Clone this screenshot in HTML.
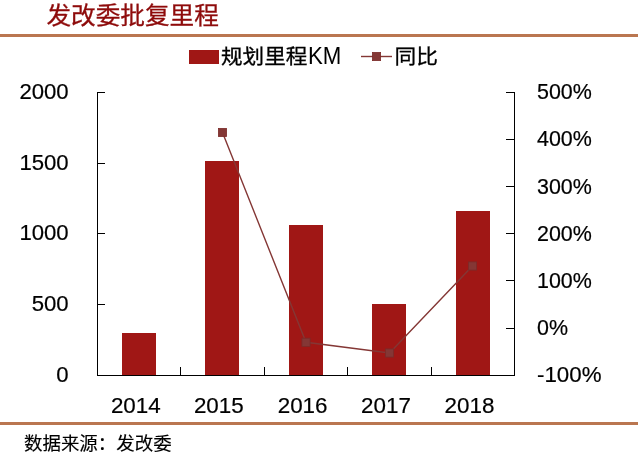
<!DOCTYPE html>
<html lang="zh">
<head>
<meta charset="utf-8">
<title>发改委批复里程</title>
<style>
html,body{margin:0;padding:0;background:#fff;}
body{width:638px;height:458px;overflow:hidden;position:relative;font-family:"Liberation Sans","Noto Sans CJK SC",sans-serif;}
svg{position:absolute;left:0;top:0;display:block;}
text{font-family:"Liberation Sans","Noto Sans CJK SC",sans-serif;}
.t{font-size:22.4px;fill:#000;stroke:#000;stroke-width:0.2px;}
.c{font-size:20.6px;fill:#000;stroke:#000;stroke-width:0.3px;}
</style>
</head>
<body>
<svg width="638" height="458" viewBox="0 0 638 458">
  <rect x="0" y="0" width="638" height="458" fill="#ffffff"/>
  <!-- title -->
  <text x="46.4" y="23.6" textLength="172.4" lengthAdjust="spacingAndGlyphs" style="font-size:23.3px;fill:#8e0b0b;stroke:#8e0b0b;stroke-width:0.3px;">发改委批复里程</text>
  <!-- rules -->
  <rect x="0" y="34" width="638" height="3" fill="#ba7650"/>
  <rect x="0" y="422" width="638" height="3" fill="#ba7650"/>
  <!-- legend -->
  <rect x="189" y="50" width="30" height="14" fill="#a01715"/>
  <text class="c" y="64.4"><tspan x="221" textLength="86.4" lengthAdjust="spacingAndGlyphs">规划里程</tspan><tspan x="308" y="63.9" textLength="33.4" lengthAdjust="spacingAndGlyphs" style="font-size:23.2px;stroke:none;">KM</tspan></text>
  <line x1="361" y1="56.5" x2="392" y2="56.5" stroke="#843735" stroke-width="1.4"/>
  <rect x="372.4" y="52.4" width="8.2" height="8.2" fill="#843735" stroke="#7b2b29" stroke-width="0.8"/>
  <text class="c" x="394.6" y="64.4" textLength="43.4" lengthAdjust="spacingAndGlyphs">同比</text>
  <!-- bars -->
  <g fill="#a01715" shape-rendering="crispEdges">
    <rect x="122" y="333" width="34" height="42"/>
    <rect x="205" y="161" width="34" height="214"/>
    <rect x="289" y="225" width="34" height="150"/>
    <rect x="372" y="304" width="34" height="71"/>
    <rect x="456" y="211" width="34" height="164"/>
  </g>
  <!-- axes -->
  <g stroke="#000" stroke-width="1" shape-rendering="crispEdges" fill="none">
    <line x1="97.5" y1="92" x2="97.5" y2="376"/>
    <line x1="97" y1="375.5" x2="515" y2="375.5"/>
    <line x1="514.5" y1="92" x2="514.5" y2="376"/>
    <!-- left ticks -->
    <line x1="97" y1="92.5" x2="105" y2="92.5"/>
    <line x1="97" y1="163.5" x2="105" y2="163.5"/>
    <line x1="97" y1="233.5" x2="105" y2="233.5"/>
    <line x1="97" y1="304.5" x2="105" y2="304.5"/>
    <!-- right ticks -->
    <line x1="506" y1="92.5" x2="515" y2="92.5"/>
    <line x1="506" y1="139.5" x2="515" y2="139.5"/>
    <line x1="506" y1="186.5" x2="515" y2="186.5"/>
    <line x1="506" y1="233.5" x2="515" y2="233.5"/>
    <line x1="506" y1="280.5" x2="515" y2="280.5"/>
    <line x1="506" y1="328.5" x2="515" y2="328.5"/>
    <!-- bottom ticks -->
    <line x1="180.5" y1="367" x2="180.5" y2="376"/>
    <line x1="264.5" y1="367" x2="264.5" y2="376"/>
    <line x1="347.5" y1="367" x2="347.5" y2="376"/>
    <line x1="431.5" y1="367" x2="431.5" y2="376"/>
  </g>
  <!-- line series -->
  <polyline points="222.5,132.5 306,342.3 389.5,353 472.5,266" fill="none" stroke="#843735" stroke-width="1.4"/>
  <g fill="#843735" stroke="#7b2b29" stroke-width="0.8">
    <rect x="218.4" y="128.4" width="8.2" height="8.2"/>
    <rect x="301.9" y="338.2" width="8.2" height="8.2"/>
    <rect x="385.4" y="348.9" width="8.2" height="8.2"/>
    <rect x="468.4" y="261.9" width="8.2" height="8.2"/>
  </g>
  <!-- left labels -->
  <g class="t" text-anchor="end">
    <text transform="translate(68.7,98.65) scale(0.990,1)">2000</text>
    <text transform="translate(68.7,169.65) scale(0.990,1)">1500</text>
    <text transform="translate(68.7,240.45) scale(0.990,1)">1000</text>
    <text transform="translate(68.7,310.95) scale(0.990,1)">500</text>
    <text transform="translate(68.7,381.55) scale(0.990,1)">0</text>
  </g>
  <!-- right labels -->
  <g class="t">
    <text transform="translate(537,99.35) scale(0.958,1)">500%</text>
    <text transform="translate(537,146.45) scale(0.958,1)">400%</text>
    <text transform="translate(537,193.65) scale(0.958,1)">300%</text>
    <text transform="translate(537,240.85) scale(0.958,1)">200%</text>
    <text transform="translate(537,287.95) scale(0.958,1)">100%</text>
    <text transform="translate(537,335.15) scale(0.958,1)">0%</text>
    <text transform="translate(537,382.35) scale(0.997,1)">-100%</text>
  </g>
  <!-- x labels -->
  <g class="t" text-anchor="middle">
    <text transform="translate(135.8,412.6) scale(1.0,1)">2014</text>
    <text transform="translate(218.8,412.6) scale(1.0,1)">2015</text>
    <text transform="translate(302.6,412.6) scale(1.0,1)">2016</text>
    <text transform="translate(386,412.6) scale(1.0,1)">2017</text>
    <text transform="translate(469.5,412.6) scale(1.0,1)">2018</text>
  </g>
  <!-- source -->
  <text x="24" y="450.4" textLength="147.6" lengthAdjust="spacingAndGlyphs" style="font-size:18px;fill:#000;stroke:#000;stroke-width:0.15px;">数据来源：发改委</text>
</svg>
</body>
</html>
